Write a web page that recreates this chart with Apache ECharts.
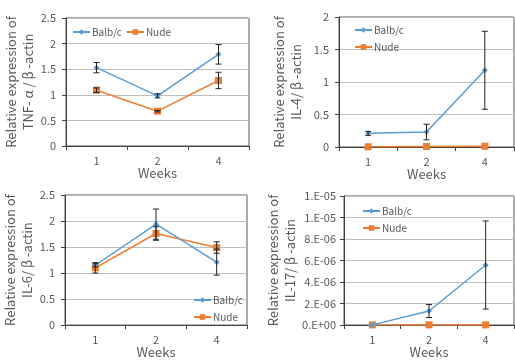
<!DOCTYPE html>
<html><head><meta charset="utf-8">
<script src="https://cdn.jsdelivr.net/npm/echarts@6/dist/echarts.min.js"></script>
<style>html,body{margin:0;padding:0;background:#fff}#c{width:515px;height:360px}</style>
</head><body><div id="c"></div>
<script>
var weeks = ['1', '2', '4'];
// TNF-alpha
var tnfBalb = [1.53, 0.98, 1.79];
var tnfBalbErr = [0.10, 0.04, 0.19];
var tnfNude = [1.09, 0.68, 1.28];
var tnfNudeErr = [0.045, 0.015, 0.16];
// IL-4
var il4Balb = [0.21, 0.23, 1.18];
var il4BalbErr = [0.03, 0.12, 0.60];
var il4Nude = [0.003, 0.008, 0.012];
var il4NudeErr = [0, 0, 0];
// IL-6
var il6Balb = [1.15, 1.94, 1.21];
var il6BalbErr = [0.03, 0.29, 0.25];
var il6Nude = [1.10, 1.76, 1.49];
var il6NudeErr = [0.10, 0.13, 0.11];
// IL-17
var il17Balb = [0.01e-6, 1.3e-6, 5.58e-6];
var il17BalbErr = [0, 0.6e-6, 4.1e-6];
var il17Nude = [0.01e-6, 0.01e-6, 0.01e-6];
var il17NudeErr = [0, 0, 0];

var BLUE = '#5B9BD5', ORANGE = '#ED7D31', TXT = '#595959';
var FONT = '"Noto Sans CJK JP", "Noto Sans", sans-serif';

var panels = [
  {title: 'TNF- α / β -actin', balb: tnfBalb, balbE: tnfBalbErr, nude: tnfNude, nudeE: tnfNudeErr,
   grid: {left: 66, top: 18, width: 183, height: 128}, y: {max: 2.5, interval: 0.5}, gap: 24,
   legend: {left: 72, top: 27, orient: 'horizontal'}},
  {title: 'IL-4/ β -actin', balb: il4Balb, balbE: il4BalbErr, nude: il4Nude, nudeE: il4NudeErr,
   grid: {left: 339, top: 17, width: 175, height: 130}, y: {max: 2, interval: 0.5}, gap: 34,
   legend: {left: 354, top: 25, orient: 'vertical'}},
  {title: 'IL-6/ β -actin', balb: il6Balb, balbE: il6BalbErr, nude: il6Nude, nudeE: il6NudeErr,
   grid: {left: 65, top: 195, width: 182, height: 134}, y: {max: 2.5, interval: 0.5}, gap: 24,
   legend: {left: 193, top: 295, orient: 'vertical'}},
  {title: 'IL-17/ β -actin', balb: il17Balb, balbE: il17BalbErr, nude: il17Nude, nudeE: il17NudeErr,
   grid: {left: 344, top: 196, width: 170, height: 129}, y: {max: 1.2e-5, interval: 2e-6, sci: true}, gap: 42,
   legend: {left: 362, top: 206, orient: 'vertical'}}
];

function sciFmt(v) {
  if (v === 0) return '0.E+00';
  var e = Math.floor(Math.log10(v) + 1e-9);
  var m = Math.round(v / Math.pow(10, e));
  if (m >= 10) { m = 1; e += 1; }
  var s = e < 0 ? '-' : '+';
  var a = Math.abs(e);
  return m + '.E' + s + (a < 10 ? '0' + a : a);
}

function errRender(params, api) {
  var x = api.value(0), lo = api.value(1), hi = api.value(2);
  if (hi - lo <= 0) return null;
  var p1 = api.coord([x, hi]), p2 = api.coord([x, lo]);
  var w = 3;
  var st = {stroke: '#222', lineWidth: 1};
  return {type: 'group', children: [
    {type: 'line', shape: {x1: p1[0], y1: p1[1], x2: p2[0], y2: p2[1]}, style: st},
    {type: 'line', shape: {x1: p1[0] - w, y1: p1[1], x2: p1[0] + w, y2: p1[1]}, style: st},
    {type: 'line', shape: {x1: p2[0] - w, y1: p2[1], x2: p2[0] + w, y2: p2[1]}, style: st}
  ]};
}

var grids = [], xAxes = [], yAxes = [], series = [], legends = [];
panels.forEach(function (p, i) {
  grids.push(Object.assign({show: true, borderColor: '#595959', borderWidth: 1, backgroundColor: 'transparent'}, p.grid));
  xAxes.push({
    type: 'category', gridIndex: i, data: weeks, boundaryGap: true,
    name: 'Weeks', nameLocation: 'middle', nameGap: 20,
    nameTextStyle: {color: TXT, fontSize: 13, fontFamily: FONT},
    axisLine: {lineStyle: {color: '#404040', width: 1}},
    axisTick: {show: true, inside: false, length: 4, lineStyle: {color: '#404040'}},
    axisLabel: {color: TXT, fontSize: 11, fontFamily: FONT, margin: 9},
    splitLine: {show: false}
  });
  yAxes.push({
    type: 'value', gridIndex: i, min: 0, max: p.y.max, interval: p.y.interval,
    name: 'Relative expression of\n' + p.title, nameLocation: 'middle', nameRotate: 90, nameGap: p.gap,
    nameTextStyle: {color: TXT, fontSize: 13, fontFamily: FONT, lineHeight: 17, align: 'center'},
    axisLine: {show: true, lineStyle: {color: '#404040', width: 1}},
    axisTick: {show: true, inside: false, length: 4, lineStyle: {color: '#404040'}},
    axisLabel: {color: TXT, fontSize: 11, fontFamily: FONT, margin: p.y.sci ? 8 : 10,
      formatter: p.y.sci ? sciFmt : function (v) { return String(v); }},
    splitLine: {show: true, lineStyle: {color: '#bfbfbf', width: 1}}
  });
  series.push({
    name: 'Balb/c', type: 'line', xAxisIndex: i, yAxisIndex: i, data: p.balb,
    symbol: 'diamond', symbolSize: 6, lineStyle: {color: BLUE, width: 1.5},
    itemStyle: {color: BLUE}, z: 3
  });
  series.push({
    name: 'Nude', type: 'line', xAxisIndex: i, yAxisIndex: i, data: p.nude,
    symbol: 'rect', symbolSize: 7, lineStyle: {color: ORANGE, width: 1.5},
    itemStyle: {color: ORANGE}, z: 2
  });
  series.push({
    type: 'custom', xAxisIndex: i, yAxisIndex: i, renderItem: errRender, z: 5, silent: true,
    data: p.balb.map(function (v, k) { return [k, v - p.balbE[k], v + p.balbE[k]]; })
  });
  series.push({
    type: 'custom', xAxisIndex: i, yAxisIndex: i, renderItem: errRender, z: 5, silent: true,
    data: p.nude.map(function (v, k) { return [k, v - p.nudeE[k], v + p.nudeE[k]]; })
  });
  legends.push({
    data: ['Balb/c', 'Nude'], left: p.legend.left, top: p.legend.top, orient: p.legend.orient,
    itemWidth: 17, itemHeight: 7, itemGap: p.legend.orient === 'vertical' ? 7 : 4, padding: 0,
    textStyle: {color: TXT, fontSize: 10, fontFamily: FONT, padding: [0, 0, 0, -3]},
    selectedMode: false
  });
});

var chart = echarts.init(document.getElementById('c'), null, {renderer: 'canvas'});
chart.setOption({
  animation: false, backgroundColor: '#fff',
  grid: grids, xAxis: xAxes, yAxis: yAxes, series: series, legend: legends
});
</script></body></html>
